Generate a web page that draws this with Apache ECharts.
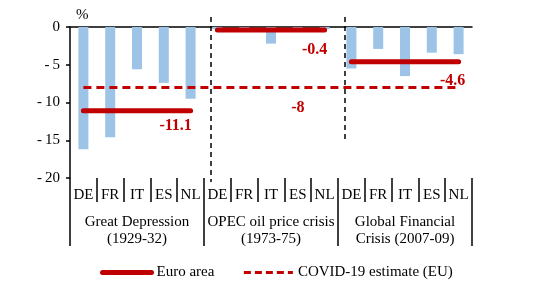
<!DOCTYPE html>
<html>
<head>
<meta charset="utf-8">
<script src="https://cdn.jsdelivr.net/npm/echarts@6/dist/echarts.min.js"></script>
<style>html,body{margin:0;padding:0;background:#fff;}#c{width:551px;height:303px;}</style>
</head>
<body>
<div id="c"></div>
<script>
var countries = ['DE','FR','IT','ES','NL','DE','FR','IT','ES','NL','DE','FR','IT','ES','NL'];
var groups = ['Great Depression\n(1929-32)','OPEC oil price crisis\n(1973-75)','Global Financial\nCrisis (2007-09)'];
var countryValues = [-16.2,-14.6,-5.6,-7.4,-9.5, -0.3,-0.3,-2.2,-0.3,-0.3, -5.5,-2.9,-6.5,-3.4,-3.6];
var euroArea = [-11.1,-0.4,-4.6];
var covidEstimate = -8;

var RED = '#C00000', BLUE = '#9DC3E6', FONT = '"Liberation Serif", "Times New Roman", serif';
var idx = countries.map(function(_, i){ return String(i); });

function labelStyle(dist, off){
  return {show: true, position: 'bottom', distance: dist, offset: off, color: RED,
    fontFamily: FONT, fontWeight: 'bold', fontSize: 16, formatter: '{c}'};
}

function euroSeries(g){
  var d = idx.map(function(_, i){ return Math.floor(i/5) === g ? euroArea[g] : null; });
  return {
    name: 'Euro area', type: 'line', data: d, symbol: 'none', silent: true,
    lineStyle: {color: RED, width: 5, cap: 'round'}, itemStyle: {color: RED},
    markPoint: {symbol: 'circle', symbolSize: 0, silent: true,
      label: labelStyle([7,12,11][g], [[-15,0],[-10,0],[-6,0]][g]),
      data: [{coord: [idx[g*5+4], euroArea[g]], value: euroArea[g]}]},
    z: 4
  };
}

var chart = echarts.init(document.getElementById('c'), null, {renderer: 'canvas'});
chart.setOption({
  animation: false,
  textStyle: {fontFamily: FONT},
  grid: {left: 70, top: 27, right: 79, bottom: 125},
  legend: {
    data: [
      {name: 'Euro area', lineStyle: {width: 5, color: RED, type: 'solid'}},
      {name: 'COVID-19 estimate (EU)', lineStyle: {width: 3, color: RED, type: [7,4]}}
    ],
    left: 95, top: 260, itemWidth: 49, itemHeight: 14, itemGap: 28,
    itemStyle: {color: 'rgba(0,0,0,0)', borderWidth: 0, opacity: 0},
    textStyle: {fontFamily: FONT, fontSize: 15, color: '#000'}
  },
  xAxis: [
    {type: 'category', data: idx, position: 'top',
     axisLine: {lineStyle: {color: '#000', width: 1.5}},
     axisTick: {length: 4, lineStyle: {color: '#000', width: 1.5}},
     axisLabel: {show: false}},
    {type: 'category', data: countries, position: 'bottom',
     axisLine: {show: false},
     axisTick: {show: true, length: 24, interval: 0, lineStyle: {color: '#000', width: 1.5}},
     axisLabel: {interval: 0, margin: 10, fontFamily: FONT, fontSize: 15, color: '#000'}},
    {type: 'category', data: groups, position: 'bottom',
     axisLine: {show: false},
     axisTick: {show: true, length: 68, interval: 0, lineStyle: {color: '#000', width: 1.5}},
     axisLabel: {interval: 0, margin: 36, fontFamily: FONT, fontSize: 15, lineHeight: 17, color: '#000'}}
  ],
  yAxis: {
    type: 'value', min: -20, max: 0, interval: 5,
    axisLine: {show: true, lineStyle: {color: '#000', width: 1.5}},
    axisTick: {show: true, length: 4, lineStyle: {color: '#000', width: 1.5}},
    splitLine: {show: false},
    axisLabel: {margin: 10, fontFamily: FONT, fontSize: 15, color: '#000',
      formatter: function(v){ return v < 0 ? '-\u2009' + Math.abs(v) : String(v); }}
  },
  graphic: [
    {type: 'text', left: 76, top: 8, style: {text: '%', font: '15px ' + FONT, fill: '#000'}},
    {type: 'line', shape: {x1: 211, y1: 17, x2: 211, y2: 182}, style: {stroke: '#000', lineWidth: 1.5, lineDash: [5,4]}, z: 10},
    {type: 'line', shape: {x1: 345, y1: 17, x2: 345, y2: 143}, style: {stroke: '#000', lineWidth: 1.5, lineDash: [5,4]}, z: 10}
  ],
  series: [
    {name: 'countries', type: 'bar', data: countryValues, barWidth: 10, itemStyle: {color: BLUE}, silent: true, z: 2},
    euroSeries(0), euroSeries(1), euroSeries(2),
    {name: 'COVID-19 estimate (EU)', type: 'line', data: idx.map(function(){ return covidEstimate; }),
     symbol: 'none', silent: true, z: 3,
     lineStyle: {color: RED, width: 3, type: [8,5]}, itemStyle: {color: RED},
     markPoint: {symbol: 'circle', symbolSize: 0, silent: true,
       label: labelStyle(12, [0,0]),
       data: [{coord: [idx[8], covidEstimate], value: covidEstimate}]}}
  ]
});
</script>
</body>
</html>
